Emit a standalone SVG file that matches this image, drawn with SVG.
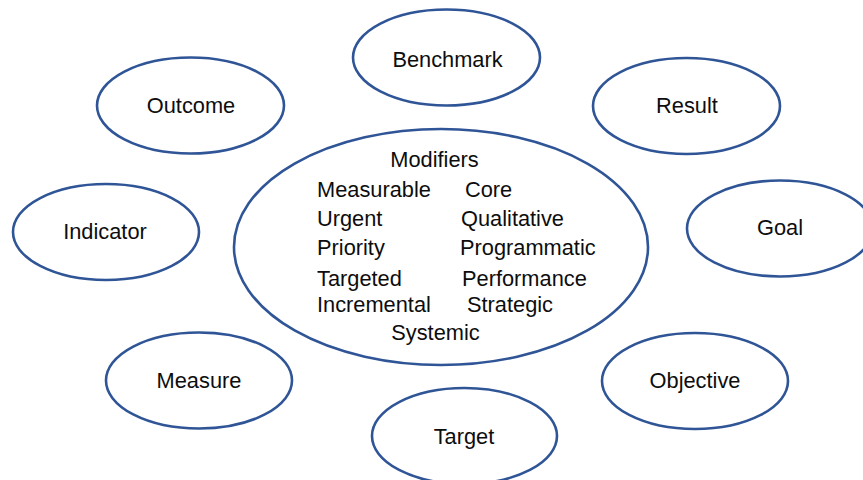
<svg xmlns="http://www.w3.org/2000/svg" width="863" height="480" viewBox="0 0 863 480">
  <style>
    .node ellipse { fill: #ffffff; stroke: #2F5597; stroke-width: 2.6; }
    text { font-family: "Liberation Sans", Arial, sans-serif; font-size: 21.8px; fill: #0d0d0d; }
    .c { text-anchor: middle; }
  </style>
  <rect x="0" y="0" width="863" height="480" fill="#ffffff"/>
  <g id="connectors"></g>
  <g id="benchmark" class="node">
    <ellipse cx="446.5" cy="57.5" rx="93.5" ry="48"/>
    <text class="c" x="447.5" y="67">Benchmark</text>
  </g>
  <g id="outcome" class="node">
    <ellipse cx="190.5" cy="105.5" rx="93.5" ry="48"/>
    <text class="c" x="191" y="113">Outcome</text>
  </g>
  <g id="result" class="node">
    <ellipse cx="686.5" cy="106" rx="93.5" ry="48"/>
    <text class="c" x="687" y="113">Result</text>
  </g>
  <g id="indicator" class="node">
    <ellipse cx="106" cy="232" rx="93" ry="48"/>
    <text class="c" x="105" y="239">Indicator</text>
  </g>
  <g id="goal" class="node">
    <ellipse cx="780" cy="228.5" rx="93" ry="48"/>
    <text class="c" x="780" y="235">Goal</text>
  </g>
  <g id="modifiers" class="node">
    <ellipse cx="441" cy="247" rx="207" ry="118"/>
    <text class="c" x="434.5" y="167">Modifiers</text>
    <text x="317" y="197">Measurable</text>
    <text x="465" y="197">Core</text>
    <text x="317" y="226">Urgent</text>
    <text x="461" y="226">Qualitative</text>
    <text x="317" y="255">Priority</text>
    <text x="460" y="255">Programmatic</text>
    <text x="317" y="286">Targeted</text>
    <text x="462" y="286">Performance</text>
    <text x="317" y="312">Incremental</text>
    <text x="467" y="312">Strategic</text>
    <text class="c" x="435.5" y="340">Systemic</text>
  </g>
  <g id="measure" class="node">
    <ellipse cx="199" cy="380.5" rx="93" ry="48"/>
    <text class="c" x="199" y="388">Measure</text>
  </g>
  <g id="objective" class="node">
    <ellipse cx="695" cy="381" rx="93" ry="48"/>
    <text class="c" x="695" y="388">Objective</text>
  </g>
  <g id="target" class="node">
    <ellipse cx="464.5" cy="436" rx="92.5" ry="48"/>
    <text class="c" x="464" y="444">Target</text>
  </g>
</svg>
